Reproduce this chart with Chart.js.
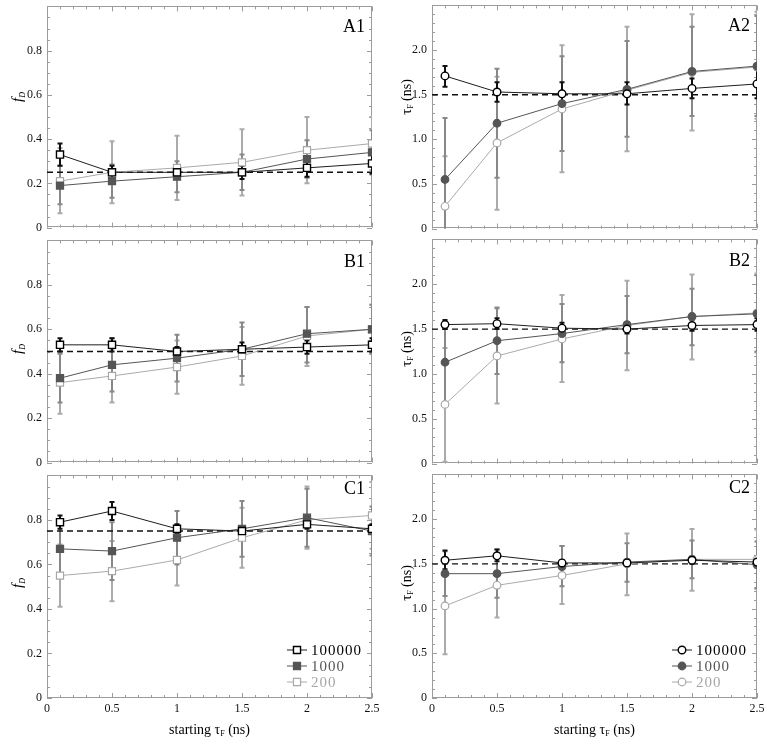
<!DOCTYPE html>
<html><head><meta charset="utf-8">
<script src="https://cdn.jsdelivr.net/npm/chart.js@4.4.1/dist/chart.umd.min.js"></script>
<style>
html,body{margin:0;padding:0;background:#fff;}
#wrap{position:relative;width:765px;height:743px;overflow:hidden;background:#fff;}
canvas{position:absolute;}
</style></head><body><div id="wrap"></div>
<script>
// ---------- data ----------
const xValues = [0.1, 0.5, 1, 1.5, 2, 2.5];
const seriesNames = ['100000', '1000', '200'];
const xTickLabels = ['0', '0.5', '1', '1.5', '2', '2.5'];
const fTickLabels = ['0', '0.2', '0.4', '0.6', '0.8'];
const tauTickLabels = ['0', '0.5', '1.0', '1.5', '2.0'];
const refF = [0.25, 0.5, 0.75];
const refTau = 1.5;

// A1 (f_D)
const a1_100000 = [0.33, 0.25, 0.25, 0.25, 0.27, 0.29];
const a1_100000_lo = [0.28, 0.22, 0.22, 0.22, 0.23, 0.245];
const a1_100000_hi = [0.38, 0.28, 0.28, 0.28, 0.31, 0.335];
const a1_1000 = [0.19, 0.21, 0.23, 0.25, 0.31, 0.34];
const a1_1000_lo = [0.105, 0.135, 0.16, 0.17, 0.225, 0.24];
const a1_1000_hi = [0.28, 0.285, 0.30, 0.33, 0.395, 0.44];
const a1_200 = [0.21, 0.25, 0.27, 0.295, 0.35, 0.38];
const a1_200_lo = [0.065, 0.11, 0.125, 0.145, 0.20, 0.26];
const a1_200_hi = [0.36, 0.39, 0.415, 0.445, 0.50, 0.50];

// A2 (tau_F)
const a2_100000 = [1.71, 1.53, 1.51, 1.51, 1.57, 1.62];
const a2_100000_lo = [1.59, 1.42, 1.38, 1.39, 1.46, 1.46];
const a2_100000_hi = [1.82, 1.64, 1.64, 1.64, 1.68, 1.78];
const a2_1000 = [0.55, 1.18, 1.40, 1.56, 1.76, 1.82];
const a2_1000_lo = [-0.14, 0.57, 0.87, 1.03, 1.26, 1.26];
const a2_1000_hi = [1.24, 1.79, 1.93, 2.10, 2.26, 2.38];
const a2_200 = [0.25, 0.96, 1.34, 1.55, 1.75, 1.81];
const a2_200_lo = [-0.31, 0.21, 0.63, 0.865, 1.10, 1.23];
const a2_200_hi = [0.81, 1.70, 2.055, 2.26, 2.40, 2.43];

// B1
const b1_100000 = [0.53, 0.53, 0.50, 0.51, 0.52, 0.53];
const b1_100000_lo = [0.50, 0.50, 0.48, 0.48, 0.49, 0.50];
const b1_100000_hi = [0.56, 0.56, 0.52, 0.54, 0.55, 0.56];
const b1_1000 = [0.38, 0.44, 0.47, 0.51, 0.58, 0.60];
const b1_1000_lo = [0.27, 0.32, 0.365, 0.39, 0.45, 0.49];
const b1_1000_hi = [0.49, 0.56, 0.575, 0.63, 0.70, 0.71];
const b1_200 = [0.36, 0.39, 0.43, 0.48, 0.57, 0.60];
const b1_200_lo = [0.22, 0.27, 0.31, 0.35, 0.435, 0.49];
const b1_200_hi = [0.50, 0.51, 0.55, 0.61, 0.70, 0.71];

// B2
const b2_100000 = [1.55, 1.56, 1.51, 1.50, 1.54, 1.55];
const b2_100000_lo = [1.50, 1.50, 1.45, 1.45, 1.48, 1.48];
const b2_100000_hi = [1.60, 1.62, 1.57, 1.55, 1.60, 1.62];
const b2_1000 = [1.13, 1.37, 1.45, 1.55, 1.64, 1.67];
const b2_1000_lo = [0.68, 1.00, 1.13, 1.23, 1.32, 1.25];
const b2_1000_hi = [1.58, 1.74, 1.78, 1.87, 1.95, 2.10];
const b2_200 = [0.66, 1.20, 1.39, 1.54, 1.64, 1.68];
const b2_200_lo = [0.02, 0.67, 0.91, 1.04, 1.16, 1.24];
const b2_200_hi = [1.29, 1.73, 1.88, 2.04, 2.11, 2.12];

// C1
const c1_100000 = [0.79, 0.84, 0.76, 0.75, 0.78, 0.76];
const c1_100000_lo = [0.76, 0.80, 0.74, 0.73, 0.76, 0.74];
const c1_100000_hi = [0.82, 0.88, 0.78, 0.77, 0.80, 0.78];
const c1_1000 = [0.67, 0.66, 0.72, 0.76, 0.81, 0.75];
const c1_1000_lo = [0.54, 0.53, 0.60, 0.635, 0.68, 0.64];
const c1_1000_hi = [0.80, 0.79, 0.84, 0.885, 0.94, 0.86];
const c1_200 = [0.55, 0.57, 0.62, 0.72, 0.80, 0.82];
const c1_200_lo = [0.41, 0.435, 0.505, 0.585, 0.67, 0.67];
const c1_200_hi = [0.69, 0.705, 0.735, 0.855, 0.95, 0.97];

// C2
const c2_100000 = [1.54, 1.59, 1.51, 1.51, 1.54, 1.52];
const c2_100000_lo = [1.44, 1.53, 1.48, 1.48, 1.50, 1.46];
const c2_100000_hi = [1.65, 1.66, 1.54, 1.54, 1.58, 1.58];
const c2_1000 = [1.39, 1.39, 1.47, 1.52, 1.55, 1.49];
const c2_1000_lo = [1.14, 1.12, 1.25, 1.30, 1.34, 1.23];
const c2_1000_hi = [1.64, 1.66, 1.70, 1.73, 1.76, 1.75];
const c2_200 = [1.03, 1.26, 1.37, 1.50, 1.55, 1.55];
const c2_200_lo = [0.49, 0.90, 1.05, 1.15, 1.20, 1.22];
const c2_200_hi = [1.57, 1.62, 1.70, 1.84, 1.89, 1.88];

// ---------- styling ----------
const SERIF = '"Liberation Serif", "DejaVu Serif", serif';
Chart.defaults.font.family = SERIF;
const seriesStyles = [
  {line: '#1e1e1e', mk: '#000000', fill: '#ffffff', err: '#111111', text: '#000000', lw: 1.4},
  {line: '#555555', mk: '#555555', fill: '#555555', err: '#888888', text: '#555555', lw: 1.2},
  {line: '#aaaaaa', mk: '#a8a8a8', fill: '#ffffff', err: '#ababab', text: '#a8a8a8', lw: 1.2},
];

const panels = [
  {label: 'A1', col: 0, row: 0, kind: 'f', ref: refF[0], series: [[a1_100000, a1_100000_lo, a1_100000_hi], [a1_1000, a1_1000_lo, a1_1000_hi], [a1_200, a1_200_lo, a1_200_hi]]},
  {label: 'A2', col: 1, row: 0, kind: 't', ref: refTau, series: [[a2_100000, a2_100000_lo, a2_100000_hi], [a2_1000, a2_1000_lo, a2_1000_hi], [a2_200, a2_200_lo, a2_200_hi]]},
  {label: 'B1', col: 0, row: 1, kind: 'f', ref: refF[1], series: [[b1_100000, b1_100000_lo, b1_100000_hi], [b1_1000, b1_1000_lo, b1_1000_hi], [b1_200, b1_200_lo, b1_200_hi]]},
  {label: 'B2', col: 1, row: 1, kind: 't', ref: refTau, series: [[b2_100000, b2_100000_lo, b2_100000_hi], [b2_1000, b2_1000_lo, b2_1000_hi], [b2_200, b2_200_lo, b2_200_hi]]},
  {label: 'C1', col: 0, row: 2, kind: 'f', ref: refF[2], series: [[c1_100000, c1_100000_lo, c1_100000_hi], [c1_1000, c1_1000_lo, c1_1000_hi], [c1_200, c1_200_lo, c1_200_hi]]},
  {label: 'C2', col: 1, row: 2, kind: 't', ref: refTau, series: [[c2_100000, c2_100000_lo, c2_100000_hi], [c2_1000, c2_1000_lo, c2_1000_hi], [c2_200, c2_200_lo, c2_200_hi]]},
];

const colGeom = [{left: 0, width: 380}, {left: 385, width: 380}];
const rowGeom = [
  {top: 0, height: 234, padBottom: 4, xAxis: false, titleY: 97, labelDy: 26},
  {top: 234, height: 235, padBottom: 4, xAxis: false, titleY: 349, labelDy: 27},
  {top: 469, height: 274, padBottom: 0, xAxis: true, titleY: 583, labelDy: 19},
];

// ---------- plugins ----------
function drawParts(ctx, parts, cx, baseY) {
  let w = 0;
  parts.forEach(p => { ctx.font = p[1]; w += ctx.measureText(p[0]).width; });
  let xx = cx - w / 2;
  parts.forEach(p => {
    ctx.font = p[1];
    ctx.fillText(p[0], xx, baseY + p[2]);
    xx += ctx.measureText(p[0]).width;
  });
}

function drawMarker(ctx, style, x, y, r, stroke, fill, lw) {
  ctx.beginPath();
  if (style === 'rect') { const s = r * Math.SQRT1_2; ctx.rect(x - s, y - s, 2 * s, 2 * s); }
  else ctx.arc(x, y, r, 0, Math.PI * 2);
  ctx.fillStyle = fill; ctx.fill();
  ctx.lineWidth = lw; ctx.strokeStyle = stroke; ctx.stroke();
}

const framePlugin = {
  id: 'frame',
  beforeDatasetsDraw(chart) {
    const {ctx, chartArea: a, scales: {x, y}} = chart;
    const p = chart.options.plugins.frame;
    ctx.save();
    ctx.strokeStyle = '#9c9c9c';
    ctx.lineWidth = 1;
    ctx.strokeRect(Math.round(a.left) + 0.5, Math.round(a.top) + 0.5, Math.round(a.right - a.left) - 1, Math.round(a.bottom - a.top) - 1);
    ctx.beginPath();
    for (let j = 0; j <= 25; j++) {
      const L = j % 5 === 0 ? 5 : 3;
      const px = Math.round(x.getPixelForValue(j * 0.1)) + 0.5;
      ctx.moveTo(px, a.bottom); ctx.lineTo(px, a.bottom - L);
      ctx.moveTo(px, a.top); ctx.lineTo(px, a.top + L);
    }
    const n = Math.round(p.yMax / p.yMinor);
    for (let j = 0; j <= n; j++) {
      const L = j % p.perMajor === 0 ? 5 : 3;
      const py = Math.round(y.getPixelForValue(j * p.yMinor)) + 0.5;
      ctx.moveTo(a.left, py); ctx.lineTo(a.left + L, py);
      ctx.moveTo(a.right, py); ctx.lineTo(a.right - L, py);
    }
    ctx.stroke();
    ctx.restore();
  }
};

const errorBarPlugin = {
  id: 'errorBars',
  beforeDatasetsDraw(chart) {
    const {ctx, chartArea: a, scales: {x, y}} = chart;
    ctx.save();
    ctx.beginPath();
    ctx.rect(a.left, a.top, a.right - a.left, a.bottom - a.top);
    ctx.clip();
    const dss = chart.data.datasets.filter(d => d.errLo);
    for (let k = dss.length - 1; k >= 0; k--) {
      const d = dss[k];
      ctx.strokeStyle = d.errColor;
      ctx.lineWidth = 2;
      d.data.forEach((pt, i) => {
        const px = Math.round(x.getPixelForValue(pt.x));
        const yl = y.getPixelForValue(d.errLo[i]);
        const yh = y.getPixelForValue(d.errHi[i]);
        ctx.beginPath();
        ctx.moveTo(px, yl); ctx.lineTo(px, yh);
        ctx.moveTo(px - 2.5, yl); ctx.lineTo(px + 2.5, yl);
        ctx.moveTo(px - 2.5, yh); ctx.lineTo(px + 2.5, yh);
        ctx.stroke();
      });
    }
    ctx.restore();
  }
};

const textPlugin = {
  id: 'texts',
  afterDraw(chart) {
    const {ctx, chartArea: a} = chart;
    const o = chart.options.plugins.texts;
    ctx.save();
    ctx.fillStyle = '#000';
    ctx.textBaseline = 'alphabetic';
    // panel label
    ctx.font = '18px ' + SERIF;
    ctx.textAlign = 'right';
    ctx.fillText(o.label, a.right - 7, a.top + o.labelDy);
    ctx.textAlign = 'left';
    // y title (rotated)
    ctx.save();
    ctx.translate(o.titleX, o.titleY);
    ctx.rotate(-Math.PI / 2);
    if (o.kind === 'f') {
      drawParts(ctx, [['f', 'italic 15px ' + SERIF, 0], ['D', 'italic 8px ' + SERIF, 3]], 0, 5);
    } else {
      drawParts(ctx, [['τ', '15px ' + SERIF, 0], ['F', '8px ' + SERIF, 2], [' (ns)', '14px ' + SERIF, 0]], 0, 5);
    }
    ctx.restore();
    if (o.xTitle) {
      drawParts(ctx, [['starting τ', '14px ' + SERIF, 0], ['F', '8px ' + SERIF, 2], [' (ns)', '14px ' + SERIF, 0]], (a.left + a.right) / 2, chart.height - 9);
      // legend
      const dss = chart.data.datasets.filter(d => d.errLo);
      dss.forEach((d, k) => {
        const yy = a.bottom - 48 + k * 16;
        const x0 = a.right - 85, x1 = a.right - 65;
        ctx.beginPath();
        ctx.strokeStyle = d.borderColor; ctx.lineWidth = 1;
        ctx.moveTo(x0, yy); ctx.lineTo(x1, yy); ctx.stroke();
        drawMarker(ctx, d.pointStyle, (x0 + x1) / 2, yy, d.pointRadius, d.pointBorderColor, d.pointBackgroundColor, d.pointBorderWidth);
        ctx.fillStyle = d.legendText;
        ctx.font = '15px ' + SERIF;
        ctx.letterSpacing = '1px';
        ctx.textBaseline = 'middle';
        ctx.fillText(d.label, a.right - 61, yy + 1);
        ctx.letterSpacing = '0px';
        ctx.textBaseline = 'alphabetic';
      });
    }
    ctx.restore();
  }
};

// ---------- build charts ----------
const wrap = document.getElementById('wrap');
panels.forEach(p => {
  const cg = colGeom[p.col], rg = rowGeom[p.row];
  const cv = document.createElement('canvas');
  cv.width = cg.width; cv.height = rg.height;
  cv.style.left = cg.left + 'px'; cv.style.top = rg.top + 'px';
  cv.style.width = cg.width + 'px'; cv.style.height = rg.height + 'px';
  wrap.appendChild(cv);

  const isF = p.kind === 'f';
  const datasets = p.series.map((s, k) => ({
    label: seriesNames[k],
    data: xValues.map((x, i) => ({x: x, y: s[0][i]})),
    errLo: s[1], errHi: s[2],
    errColor: seriesStyles[k].err,
    legendText: seriesStyles[k].text,
    borderColor: seriesStyles[k].line,
    borderWidth: 1,
    pointStyle: isF ? 'rect' : 'circle',
    pointRadius: isF ? 5 : 3.8,
    pointBorderColor: seriesStyles[k].mk,
    pointBackgroundColor: seriesStyles[k].fill,
    pointBorderWidth: seriesStyles[k].lw,
    tension: 0, fill: false
  }));
  datasets.push({
    label: 'ref', data: [{x: 0, y: p.ref}, {x: 2.5, y: p.ref}],
    borderColor: '#111', borderWidth: 1.4, borderDash: [6, 4],
    pointRadius: 0, fill: false
  });

  const yLabels = isF ? fTickLabels : tauTickLabels;
  new Chart(cv, {
    type: 'line',
    data: {datasets},
    plugins: [framePlugin, errorBarPlugin, textPlugin],
    options: {
      responsive: false, animation: false, devicePixelRatio: 1,
      layout: {padding: {left: 0, right: 8, top: 4, bottom: rg.padBottom}},
      plugins: {
        legend: {display: false}, tooltip: {enabled: false}, title: {display: false},
        frame: {yMax: isF ? 1 : 2.5, yMinor: isF ? 0.05 : 0.1, perMajor: isF ? 4 : 5},
        texts: {label: p.label, labelDy: rg.labelDy, kind: p.kind, titleX: p.col === 0 ? 17 : 21, titleY: rg.titleY - rg.top, xTitle: rg.xAxis}
      },
      scales: {
        x: {
          type: 'linear', min: 0, max: 2.5, display: rg.xAxis,
          grid: {display: false, drawTicks: false}, border: {display: false},
          ticks: {stepSize: 0.5, padding: 4, color: '#111', font: {size: 12, family: SERIF}, maxRotation: 0,
                  callback: (v, i) => xTickLabels[i]},
          afterFit: s => { s.height = rg.xAxis ? 45 : 0; s.paddingLeft = 0; s.paddingRight = 0; }
        },
        y: {
          type: 'linear', min: 0, max: isF ? 1 : 2.5,
          grid: {display: false, drawTicks: false}, border: {display: false},
          ticks: {stepSize: isF ? 0.2 : 0.5, padding: 5, color: '#111', font: {size: 12, family: SERIF},
                  callback: (v, i) => yLabels[i]},
          afterFit: s => { s.width = 47; s.paddingTop = 0; s.paddingBottom = 0; }
        }
      }
    }
  });
});
</script>
</body></html>
